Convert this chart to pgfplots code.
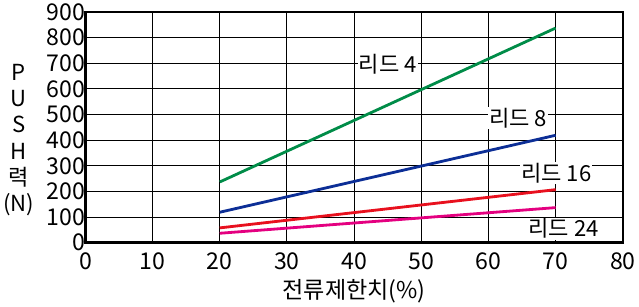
\documentclass[border=0pt]{standalone}
\usepackage{fontspec}
\setmainfont{Noto Sans CJK KR}
\usepackage{pgfplots}
\pgfplotsset{compat=1.18}
\definecolor{cgreen}{RGB}{0,140,72}
\definecolor{cblue}{RGB}{12,46,150}
\definecolor{cred}{RGB}{232,16,30}
\definecolor{cmag}{RGB}{228,0,128}
\begin{document}
\begin{tikzpicture}
\begin{axis}[
  scale only axis, width=533bp, height=229bp,
  xmin=0, xmax=80, ymin=0, ymax=900,
  xtick={0,10,...,80}, ytick={0,100,...,900},
  grid=major, grid style={black, line width=1pt},
  axis line style={line width=2.6pt},
  tick style={draw=none},
  /pgf/number format/assume math mode=true,
  ticklabel style={font=\fontsize{23}{24}\selectfont},
  xticklabel style={yshift=-6pt},
  yticklabel style={xshift=3pt},
  xlabel={전류제한치(\%)},
  xlabel style={font=\fontsize{23}{24}\selectfont, yshift=-3pt},
  clip=false,
]
\addplot[cgreen, line width=2.8pt] coordinates {(20,237) (70,837)};
\addplot[cblue, line width=2.8pt] coordinates {(20,119) (70,419)};
\addplot[cred, line width=2.8pt] coordinates {(20,58) (70,207)};
\addplot[cmag, line width=2.8pt] coordinates {(20,37) (70,137)};
\node[fill=white, inner sep=1pt, font=\fontsize{22}{23}\selectfont] at (axis cs:45,696) {리드 4};
\node[fill=white, inner sep=1pt, font=\fontsize{22}{23}\selectfont] at (axis cs:64.4,487) {리드 8};
\node[fill=white, inner sep=1pt, font=\fontsize{22}{23}\selectfont] at (axis cs:70.1,271) {리드 16};
\node[fill=white, inner sep=1pt, font=\fontsize{22}{23}\selectfont] at (axis cs:71.2,55) {리드 24};
\node[align=center, font=\fontsize{22}{26}\selectfont] at (rel axis cs:-0.124,0.445) {P\\U\\S\\H\\력\\(N)};
\end{axis}
\end{tikzpicture}
\end{document}
